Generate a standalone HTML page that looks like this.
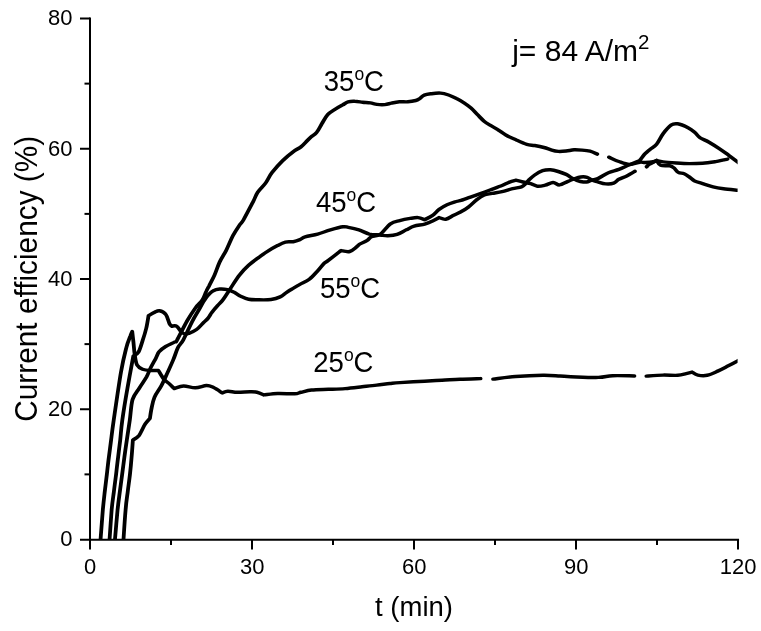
<!DOCTYPE html><html><head><meta charset="utf-8"><title>Current efficiency</title>
<style>html,body{margin:0;padding:0;background:#fff}svg{display:block}text{font-family:"Liberation Sans",Arial,sans-serif;fill:#000}</style></head><body>
<svg width="761" height="631" viewBox="0 0 761 631">
<defs><clipPath id="plot"><rect x="90" y="0" width="647.6" height="539.7"/></clipPath></defs>
<rect width="761" height="631" fill="#fff"/>
<g clip-path="url(#plot)"><g transform="scale(1.100,1)" stroke="#000" stroke-width="3.45" fill="none" stroke-linejoin="round" stroke-linecap="round">
<path d="M91.3,541.0 C91.7,535.8 92.9,517.8 93.5,509.6 C94.2,501.4 94.6,497.8 95.2,492.0 C95.8,486.2 96.5,480.6 97.1,474.8 C97.7,469.0 98.3,462.8 99.0,457.0 C99.7,451.2 100.3,446.2 101.0,440.0 C101.7,433.8 101.9,431.3 103.4,420.0 C104.9,408.7 108.1,384.0 110.0,372.0 C111.9,360.0 113.4,353.8 114.8,347.8 C116.2,341.8 117.6,338.7 118.5,336.0 C119.3,333.3 119.9,332.2 120.2,331.5 C120.4,333.2 120.9,338.1 121.3,342.0 C121.7,345.9 121.9,350.9 122.5,354.7 C123.0,358.5 123.4,362.6 124.6,365.0 C125.8,367.4 127.6,368.3 129.6,369.2 C131.7,370.1 134.4,370.3 136.8,370.5 C139.2,370.7 142.8,370.5 144.0,370.5 C144.8,371.9 147.3,377.0 149.0,379.2 C150.7,381.4 152.4,382.3 154.0,383.9 C155.6,385.5 157.6,387.8 158.4,388.6 C159.8,388.2 163.7,386.1 166.9,386.0 C170.1,385.9 174.2,387.9 177.6,387.8 C181.1,387.7 185.0,385.6 187.7,385.5 C190.5,385.4 191.8,386.3 194.2,387.5 C196.6,388.7 200.7,392.0 202.0,392.9 C202.8,392.6 204.8,391.4 207.1,391.3 C209.4,391.2 212.3,392.2 215.6,392.3 C219.0,392.4 224.3,391.8 227.3,391.8 C230.3,391.8 231.5,391.7 233.6,392.2 C235.7,392.7 238.9,394.4 239.9,394.9 C242.0,394.7 247.7,393.7 252.4,393.5 C257.0,393.3 264.4,394.0 267.9,393.8 C271.5,393.6 271.1,392.9 273.6,392.3 C276.2,391.7 279.0,390.5 283.2,390.0 C287.3,389.5 293.4,389.5 298.5,389.3 C303.5,389.1 308.6,389.0 313.7,388.6 C318.8,388.2 324.3,387.4 329.1,386.8 C333.9,386.2 338.2,385.7 342.5,385.1 C346.7,384.6 351.0,383.9 354.5,383.5 C358.1,383.1 358.4,383.0 363.6,382.6 C368.9,382.2 379.5,381.6 385.9,381.2 C392.3,380.8 396.4,380.5 401.8,380.2 C407.2,379.9 412.3,379.5 418.2,379.2 C424.0,378.9 433.8,378.7 436.9,378.6"/>
<path d="M448.2,379.1 C451.6,378.7 461.2,377.1 468.7,376.5 C476.3,375.9 486.9,375.4 493.6,375.3 C500.4,375.2 504.9,375.8 509.1,376.0 C513.3,376.2 513.1,376.5 518.9,376.7 C524.7,376.9 537.7,377.6 544.0,377.4 C550.3,377.2 551.4,375.9 556.9,375.7 C562.4,375.4 573.5,375.9 576.8,375.9"/>
<path d="M587.6,376.1 C590.2,375.9 598.1,375.2 602.8,375.1 C607.6,375.0 612.7,375.6 616.2,375.3 C619.7,375.1 621.7,374.1 623.8,373.6 C626.0,373.1 628.3,372.4 629.2,372.1 C630.0,372.6 632.1,374.6 634.4,375.1 C636.7,375.6 639.9,376.0 642.9,375.3 C645.9,374.6 649.3,372.7 652.5,371.1 C655.7,369.5 658.9,367.6 662.1,365.8 C665.3,364.0 670.2,361.2 671.8,360.3"/>
<path d="M99.5,541.0 C99.9,535.8 100.9,517.8 101.5,509.6 C102.2,501.4 102.8,497.8 103.5,492.0 C104.1,486.2 104.8,480.6 105.5,474.8 C106.1,469.0 106.7,462.8 107.4,457.0 C108.0,451.2 108.6,446.2 109.3,440.0 C109.9,433.8 110.1,428.7 111.2,420.0 C112.3,411.3 114.2,398.6 115.9,388.0 C117.6,377.4 120.3,361.4 121.2,356.1 C122.0,355.4 124.6,354.6 126.0,351.9 C127.4,349.2 128.7,343.9 129.8,340.0 C131.0,336.1 132.0,332.6 132.9,328.5 C133.8,324.4 134.7,317.8 135.0,315.7 C135.9,315.1 138.6,313.2 140.3,312.4 C141.9,311.6 143.3,310.4 145.0,310.7 C146.7,311.0 149.1,312.1 150.6,314.3 C152.2,316.5 153.2,321.8 154.1,323.8 C155.0,325.8 155.9,325.8 156.3,326.2 C157.0,326.2 159.1,325.2 160.5,326.2 C162.0,327.1 163.6,330.6 164.9,331.9 C166.2,333.2 167.0,333.8 168.2,334.0 C169.3,334.2 170.1,334.1 171.8,333.3 C173.6,332.6 176.6,331.2 178.7,329.5 C180.9,327.8 183.1,324.7 184.8,322.8 C186.6,320.9 187.9,319.8 189.2,318.1 C190.5,316.4 191.2,314.5 192.6,312.4 C194.1,310.3 196.1,307.8 197.8,305.7 C199.5,303.6 200.8,302.6 202.7,299.8 C204.6,297.0 206.8,292.9 209.3,288.8 C211.8,284.7 214.8,279.1 217.6,275.2 C220.4,271.3 223.2,268.1 226.0,265.3 C228.8,262.5 231.4,260.5 234.4,258.1 C237.3,255.7 240.9,253.0 243.9,250.9 C246.9,248.8 249.7,247.1 252.3,245.6 C254.9,244.1 257.1,242.8 259.5,242.1 C261.8,241.4 264.4,242.1 266.6,241.7 C268.8,241.3 270.9,240.5 272.7,239.7 C274.5,238.9 274.7,237.7 277.4,236.8 C280.0,235.9 285.0,235.2 288.8,234.1 C292.7,232.9 296.5,231.1 300.4,229.9 C304.2,228.7 309.1,227.2 311.8,226.8 C314.5,226.4 314.3,226.9 316.7,227.4 C319.1,227.9 323.1,228.8 326.3,229.9 C329.5,231.0 332.6,233.2 335.8,234.1 C339.0,234.9 342.7,234.7 345.5,235.0 C348.3,235.3 350.0,235.8 352.6,235.7 C355.2,235.6 358.2,235.4 361.0,234.4 C363.8,233.4 366.8,231.2 369.4,229.8 C372.0,228.4 373.8,227.1 376.5,226.2 C379.3,225.2 383.3,225.0 386.1,224.1 C388.9,223.2 391.1,222.1 393.3,221.0 C395.5,219.9 398.2,218.2 399.2,217.6 C400.2,217.9 403.0,219.7 405.2,219.3 C407.4,218.9 410.2,216.5 412.4,215.3 C414.5,214.1 415.9,213.7 418.2,212.3 C420.4,210.9 423.3,209.2 425.8,207.1 C428.4,205.0 431.1,201.7 433.5,199.7 C435.8,197.7 437.9,196.1 440.2,195.0 C442.5,193.9 444.6,194.0 447.3,193.4 C450.0,192.8 453.2,192.4 456.4,191.6 C459.5,190.8 463.0,189.5 466.0,188.7 C469.0,187.9 472.1,187.6 474.1,186.8 C476.0,186.0 476.7,184.9 477.7,183.8 C478.8,182.7 479.2,181.8 480.5,180.3 C481.9,178.8 484.0,176.6 486.1,175.0 C488.2,173.4 490.9,171.6 493.3,170.7 C495.7,169.8 498.0,169.7 500.4,169.8 C502.7,169.9 505.2,170.7 507.5,171.5 C509.9,172.3 512.7,173.4 514.7,174.4 C516.7,175.4 518.0,176.7 519.5,177.7 C521.1,178.7 522.5,179.6 524.3,180.3 C526.1,181.0 528.6,181.8 530.3,182.0 C532.0,182.2 533.2,182.1 534.5,181.8 C535.9,181.5 536.7,180.5 538.2,180.0 C539.7,179.5 541.1,179.8 543.5,178.6 C546.0,177.4 549.9,174.2 553.1,172.7 C556.3,171.2 559.5,170.7 562.6,169.4 C565.8,168.1 569.1,166.2 572.2,164.8 C575.3,163.4 579.7,161.6 581.2,160.9 C582.1,159.7 584.9,155.6 586.5,153.7 C588.2,151.8 589.2,151.0 590.9,149.4 C592.6,147.8 594.9,146.8 596.9,144.2 C598.9,141.6 600.6,136.9 602.8,133.7 C605.0,130.5 607.8,126.8 610.0,125.1 C612.2,123.4 613.4,123.4 616.0,123.8 C618.6,124.2 623.0,126.3 625.5,127.7 C628.1,129.1 629.8,130.7 631.5,132.3 C633.3,134.0 634.1,135.9 636.3,137.6 C638.5,139.2 641.7,140.3 644.6,142.2 C647.6,144.1 651.2,146.6 654.2,148.8 C657.2,151.0 659.5,152.9 662.5,155.3 C665.6,157.8 670.7,162.1 672.3,163.5"/>
<path d="M104.4,541.0 C104.8,535.8 106.2,517.8 106.9,509.6 C107.7,501.4 108.2,497.8 108.9,492.0 C109.6,486.2 110.3,480.6 111.0,474.8 C111.7,469.0 112.4,462.8 113.1,457.0 C113.8,451.2 114.5,446.2 115.3,440.0 C116.1,433.8 117.1,426.8 118.0,420.0 C118.9,413.2 119.1,404.9 120.5,399.5 C122.0,394.1 124.7,391.6 126.8,387.8 C128.9,384.0 131.6,380.1 133.3,376.8 C134.9,373.5 135.4,371.2 136.8,368.1 C138.2,365.0 140.5,360.6 141.8,357.9 C143.1,355.2 143.2,353.7 144.6,351.8 C146.1,349.9 148.2,348.1 150.6,346.5 C153.0,344.9 157.3,343.0 159.0,341.9 C160.7,340.8 159.2,343.5 161.0,340.0 C162.8,336.5 167.3,326.3 170.1,320.9 C172.9,315.5 175.6,311.1 177.9,307.6 C180.2,304.1 182.4,302.7 184.0,300.0 C185.6,297.3 186.4,293.8 187.5,291.4 C188.5,289.0 188.9,288.4 190.2,285.7 C191.4,283.0 193.4,279.1 195.0,275.2 C196.6,271.2 197.9,266.2 199.7,262.0 C201.5,257.8 203.7,254.6 205.7,250.2 C207.7,245.8 209.7,240.0 211.7,235.8 C213.7,231.7 216.0,227.9 217.6,225.3 C219.2,222.7 219.2,223.9 221.3,220.0 C223.3,216.1 227.8,206.6 230.0,202.0 C232.2,197.4 232.3,195.5 234.2,192.3 C236.1,189.2 239.2,186.4 241.4,183.1 C243.5,179.8 244.7,176.3 247.3,172.6 C249.9,168.9 253.5,164.3 256.9,160.7 C260.3,157.1 264.8,153.2 267.6,150.9 C270.4,148.6 271.7,148.6 273.6,146.9 C275.5,145.2 277.5,142.7 279.0,141.0 C280.5,139.3 281.3,138.4 282.7,137.0 C284.2,135.6 286.2,134.7 287.8,132.5 C289.5,130.3 290.9,126.9 292.5,123.9 C294.2,120.9 295.9,117.1 297.9,114.7 C299.9,112.3 302.2,111.1 304.5,109.4 C306.8,107.8 309.7,106.0 311.7,104.8 C313.7,103.5 314.7,102.5 316.5,101.9 C318.2,101.3 320.3,101.2 322.5,101.3 C324.7,101.3 327.3,101.9 329.6,102.2 C332.0,102.5 334.5,102.5 336.7,102.9 C338.9,103.3 340.5,104.1 342.7,104.4 C344.9,104.7 347.7,104.8 349.9,104.6 C352.1,104.4 353.7,103.6 355.9,103.1 C358.1,102.6 360.6,102.0 363.1,101.8 C365.6,101.6 368.3,102.0 370.8,101.8 C373.3,101.6 376.2,101.0 378.0,100.5 C379.8,100.0 380.3,99.5 381.5,98.6 C382.8,97.7 383.9,96.0 385.7,95.2 C387.5,94.4 389.8,94.1 392.3,93.7 C394.8,93.3 398.0,92.9 400.6,93.1 C403.2,93.3 405.4,94.1 407.8,95.0 C410.2,95.9 412.6,97.2 415.0,98.6 C417.4,99.9 420.0,101.5 422.2,103.1 C424.4,104.7 426.2,106.2 428.2,108.1 C430.2,110.0 432.1,112.5 434.1,114.7 C436.1,116.9 438.2,119.5 440.1,121.2 C442.0,122.9 443.4,123.7 445.5,125.1 C447.5,126.5 450.2,128.0 452.6,129.7 C455.0,131.3 457.0,133.3 459.8,135.0 C462.6,136.7 466.2,138.4 469.4,140.0 C472.5,141.6 476.1,143.5 478.9,144.4 C481.7,145.3 483.5,145.0 486.1,145.5 C488.7,146.0 491.9,146.7 494.5,147.5 C497.0,148.3 499.5,149.4 501.6,150.1 C503.8,150.8 505.4,151.2 507.5,151.4 C509.7,151.6 512.3,151.3 514.7,151.0 C517.1,150.7 519.5,150.0 521.9,149.8 C524.3,149.7 526.7,149.9 529.1,150.1 C531.5,150.3 534.0,150.5 536.4,151.2 C538.7,151.9 541.9,153.6 543.0,154.1"/>
<path d="M553.5,157.2 C555.1,157.9 559.5,160.3 562.6,161.5 C565.7,162.7 569.0,164.3 572.2,164.4 C575.4,164.5 579.3,162.5 581.7,162.2 C584.1,161.9 584.5,162.6 586.5,162.5 C588.5,162.4 592.0,162.1 593.7,161.8 C595.5,161.5 596.4,160.8 596.9,160.6 C597.9,160.8 599.8,161.5 602.8,161.9 C605.8,162.3 610.8,162.7 614.8,163.0 C618.8,163.3 622.7,163.6 626.7,163.6 C630.7,163.6 634.7,163.5 638.7,163.2 C642.7,162.9 647.5,162.1 650.6,161.6 C653.8,161.1 656.0,160.3 657.8,159.9 C659.6,159.5 660.8,159.2 661.5,159.1"/>
<path d="M112.2,541.0 C112.5,535.8 113.5,517.8 114.2,509.6 C114.8,501.4 115.4,497.8 116.1,492.0 C116.7,486.2 117.5,480.6 118.1,474.8 C118.7,469.0 119.2,463.2 119.6,457.4 C120.1,451.6 120.6,442.9 120.8,440.0 C121.7,439.3 124.3,438.4 126.2,435.8 C128.0,433.2 130.2,427.1 131.9,424.2 C133.6,421.3 135.5,419.3 136.3,418.3 C136.5,416.9 136.9,413.4 137.5,409.9 C138.2,406.4 138.8,401.4 140.4,397.3 C141.9,393.2 144.8,389.7 146.8,385.5 C148.8,381.3 150.7,376.4 152.5,372.1 C154.3,367.8 156.1,363.6 157.6,359.5 C159.2,355.4 160.3,350.8 161.8,347.5 C163.3,344.2 164.5,344.3 166.6,340.0 C168.7,335.7 172.2,326.8 174.5,321.9 C176.8,317.0 178.7,313.7 180.5,310.4 C182.2,307.1 183.4,304.4 184.8,301.9 C186.3,299.4 187.7,297.0 189.2,295.2 C190.6,293.4 191.7,291.9 193.5,290.9 C195.2,289.9 197.5,289.2 199.7,289.0 C202.0,288.8 204.7,289.1 206.9,289.6 C209.1,290.2 210.9,291.2 212.9,292.3 C214.9,293.4 216.6,295.1 218.8,296.2 C221.0,297.3 223.2,298.6 226.0,299.2 C228.8,299.8 232.2,299.8 235.5,299.8 C238.9,299.9 243.2,300.0 246.4,299.5 C249.6,299.0 252.3,298.1 254.7,296.9 C257.1,295.7 258.8,293.6 260.6,292.3 C262.4,291.0 263.4,290.3 265.5,289.0 C267.5,287.7 270.1,286.0 272.7,284.4 C275.3,282.8 278.5,281.6 281.2,279.3 C283.9,277.1 286.6,273.5 288.8,270.9 C291.0,268.3 292.9,265.2 294.5,263.5 C296.2,261.8 296.2,262.3 298.5,260.4 C300.7,258.5 306.1,253.9 308.0,252.3 C309.9,250.7 309.7,250.9 310.1,250.6 C311.4,250.8 315.5,252.2 317.9,251.5 C320.3,250.8 322.8,248.0 324.4,246.7 C325.9,245.4 325.8,244.9 327.4,243.9 C329.0,242.9 332.2,241.6 333.9,240.4 C335.6,239.2 335.8,237.7 337.7,236.7 C339.7,235.7 342.6,236.5 345.5,234.4 C348.3,232.3 352.0,226.2 355.0,223.9 C358.0,221.6 360.4,221.5 363.4,220.6 C366.3,219.7 370.1,218.9 372.9,218.4 C375.7,217.9 377.9,217.4 380.1,217.6 C382.3,217.8 385.1,219.3 386.1,219.7 C387.3,219.0 391.1,217.0 393.3,215.3 C395.5,213.6 397.0,211.2 399.2,209.4 C401.4,207.7 403.8,206.1 406.4,204.8 C409.0,203.5 412.8,202.2 414.7,201.5 C416.7,200.8 416.0,201.4 418.2,200.7 C420.3,200.0 424.5,198.3 427.7,197.1 C430.9,195.9 434.3,194.6 437.3,193.4 C440.2,192.2 442.3,191.3 445.5,190.0 C448.6,188.7 453.5,186.8 456.4,185.5 C459.2,184.2 460.6,183.2 462.7,182.3 C464.8,181.4 468.0,180.5 469.0,180.2 C470.1,180.5 473.1,181.4 475.4,182.0 C477.6,182.6 480.3,182.9 482.5,183.6 C484.6,184.3 486.3,185.9 488.5,186.2 C490.7,186.5 493.2,185.8 495.6,185.2 C498.0,184.6 500.6,182.6 502.8,182.5 C505.0,182.4 506.5,185.1 508.7,184.9 C510.9,184.8 513.7,182.6 515.9,181.6 C518.1,180.6 519.9,179.8 521.9,179.0 C523.9,178.2 525.9,177.3 527.9,177.0 C529.9,176.7 532.1,176.8 533.8,177.3 C535.5,177.8 536.6,179.2 538.2,180.0 C539.8,180.8 541.5,181.2 543.5,181.9 C545.6,182.6 548.3,183.7 550.7,183.9 C553.1,184.1 555.9,184.0 557.9,183.2 C559.9,182.4 560.7,180.5 562.6,179.3 C564.6,178.1 567.4,177.3 569.8,176.0 C572.2,174.7 576.0,172.1 577.2,171.3"/>
<path d="M587.8,166.8 C588.2,166.4 588.6,165.5 590.1,164.4 C591.6,163.3 595.8,161.1 596.9,160.4 C597.5,161.2 598.5,164.3 600.5,165.2 C602.4,166.1 606.8,165.4 608.8,165.8 C610.8,166.2 611.2,166.7 612.5,167.8 C613.8,168.9 615.0,171.4 616.6,172.4 C618.2,173.4 620.3,172.9 622.0,173.7 C623.7,174.5 625.1,175.8 626.7,177.0 C628.3,178.2 629.5,179.9 631.5,181.0 C633.5,182.1 635.9,182.6 638.7,183.6 C641.5,184.6 645.1,186.0 648.3,186.9 C651.5,187.8 653.8,188.2 657.8,188.8 C661.8,189.4 669.9,190.1 672.3,190.4"/>
</g></g>
<g stroke="#000" stroke-width="2" fill="none" stroke-linecap="butt">
<path d="M90,17.45 V549.6"/>
<path d="M80,539.70 H739.05"/>
<path d="M84.5,474.38 H90"/>
<path d="M80.0,409.25 H90"/>
<path d="M84.5,344.12 H90"/>
<path d="M80.0,279.00 H90"/>
<path d="M84.5,213.88 H90"/>
<path d="M80.0,148.75 H90"/>
<path d="M84.5,83.62 H90"/>
<path d="M80.0,18.50 H90"/>
<path d="M171.00,539.70 V545.1"/>
<path d="M252.00,539.70 V549.6"/>
<path d="M333.00,539.70 V545.1"/>
<path d="M414.00,539.70 V549.6"/>
<path d="M495.00,539.70 V545.1"/>
<path d="M576.00,539.70 V549.6"/>
<path d="M657.00,539.70 V545.1"/>
<path d="M738.00,539.70 V549.6"/>
</g>
<text transform="translate(72.4,546.4) scale(1,1.02)" font-size="22" text-anchor="end">0</text>
<text transform="translate(72.4,416.1) scale(1,1.02)" font-size="22" text-anchor="end">20</text>
<text transform="translate(72.4,285.9) scale(1,1.02)" font-size="22" text-anchor="end">40</text>
<text transform="translate(72.4,155.7) scale(1,1.02)" font-size="22" text-anchor="end">60</text>
<text transform="translate(72.4,25.4) scale(1,1.02)" font-size="22" text-anchor="end">80</text>
<text transform="translate(90.2,574.2) scale(1,1.02)" font-size="22" text-anchor="middle">0</text>
<text transform="translate(252.2,574.2) scale(1,1.02)" font-size="22" text-anchor="middle">30</text>
<text transform="translate(414.2,574.2) scale(1,1.02)" font-size="22" text-anchor="middle">60</text>
<text transform="translate(576.2,574.2) scale(1,1.02)" font-size="22" text-anchor="middle">90</text>
<text transform="translate(738.2,574.2) scale(1,1.02)" font-size="22" text-anchor="middle">120</text>
<text x="414" y="615.5" font-size="27.5" text-anchor="middle">t (min)</text>
<text transform="translate(37.3,278.8) rotate(-90) scale(0.993,1.04)" font-size="30" text-anchor="middle">Current efficiency (%)</text>
<text transform="translate(323.8,90.5) scale(1,1.05)" font-size="27.5">35<tspan font-size="17.5" dy="-10.3">o</tspan><tspan dy="10.3">C</tspan></text>
<text transform="translate(316.0,212.0) scale(1,1.05)" font-size="27.5">45<tspan font-size="17.5" dy="-10.3">o</tspan><tspan dy="10.3">C</tspan></text>
<text transform="translate(320.0,298.2) scale(1,1.05)" font-size="27.5">55<tspan font-size="17.5" dy="-10.3">o</tspan><tspan dy="10.3">C</tspan></text>
<text transform="translate(313.3,372.0) scale(1,1.05)" font-size="27.5">25<tspan font-size="17.5" dy="-10.3">o</tspan><tspan dy="10.3">C</tspan></text>
<text x="512.2" y="60.5" font-size="30">j= 84 A/m<tspan font-size="20.5" dy="-11.5">2</tspan></text>
</svg></body></html>
